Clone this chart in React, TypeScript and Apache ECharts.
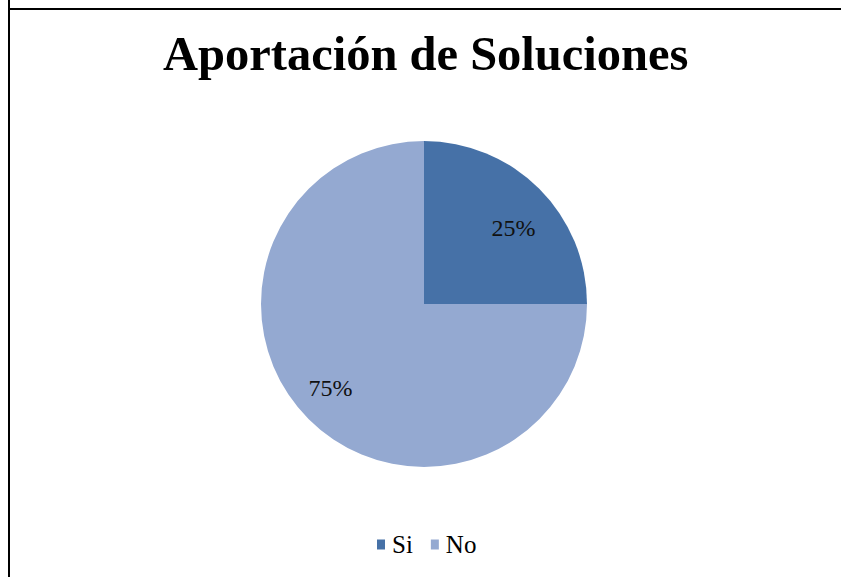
import React, { useEffect, useRef } from "react";
import * as echarts from "echarts";

const title = "Aportación de Soluciones";
const categories = ["Si", "No"];
const values = [25, 75];
const colors = ["#4671A7", "#94A9D1"];

const SERIF = "Liberation Serif";

export default function App() {
  const ref = useRef<HTMLDivElement>(null);
  useEffect(() => {
    if (!ref.current) return;
    const chart = echarts.init(ref.current, null, { renderer: "svg" });
    const data = categories.map((name, i) => ({ name, value: values[i], itemStyle: { color: colors[i] } }));
    const R = 163;
    const pct = (v: number) => Math.round((v / values.reduce((a, b) => a + b, 0)) * 100) + "%";
    chart.setOption({
      animation: false,
      backgroundColor: "#ffffff",
      title: {
        text: title,
        left: 158,
        top: 24,
        textStyle: { fontFamily: SERIF, fontWeight: "bold", fontSize: 48.5, color: "#000" },
      },
      legend: {
        data: categories,
        bottom: 15,
        left: 372,
        itemWidth: 8,
        itemHeight: 10,
        itemGap: 18,
        icon: "rect",
        textStyle: { fontFamily: SERIF, fontSize: 25, color: "#000", padding: [0, 0, 0, 2], letterSpacing: 2.5 },
      },
      graphic: [
        { type: "line", shape: { x1: 9, y1: 0, x2: 9, y2: 577 }, style: { stroke: "#000", lineWidth: 2 } },
        { type: "line", shape: { x1: 8, y1: 9, x2: 841, y2: 9 }, style: { stroke: "#000", lineWidth: 2 } },
      ],
      series: [
        {
          type: "pie",
          center: [424, 304],
          radius: [0, R],
          startAngle: 90,
          clockwise: true,
          silent: true,
          label: { show: false },
          labelLine: { show: false },
          data,
        },
        {
          type: "pie",
          center: [424, 304],
          radius: [R * 0.5, R],
          startAngle: 90,
          clockwise: true,
          silent: true,
          itemStyle: { color: "transparent" },
          label: {
            show: true,
            position: "inside",
            fontFamily: SERIF,
            fontSize: 24,
            color: "#111",
            rich: {
              gap26: { height: 26, lineHeight: 26, fontSize: 1 },
              gap10: { height: 10, lineHeight: 10, fontSize: 1 },
              t: { fontFamily: SERIF, fontSize: 24, color: "#111", lineHeight: 26 },
            },
          },
          labelLine: { show: false },
          data: categories.map((name, i) => ({
            name,
            value: values[i],
            itemStyle: { color: "transparent" },
            label:
              i === 0
                ? { formatter: "{gap26|}\n{t|" + pct(values[i]) + "}", padding: [0, 0, 0, 2] }
                : { formatter: "{t|" + pct(values[i]) + "}\n{gap10|}", padding: [0, 10, 0, 0] },
          })),
        },
      ],
    });
    return () => chart.dispose();
  }, []);
  return (
    <div style={{ position: "fixed", left: 0, top: 0, width: 841, height: 577, background: "#fff" }}>
      <div ref={ref} style={{ width: 841, height: 577 }} />
    </div>
  );
}
